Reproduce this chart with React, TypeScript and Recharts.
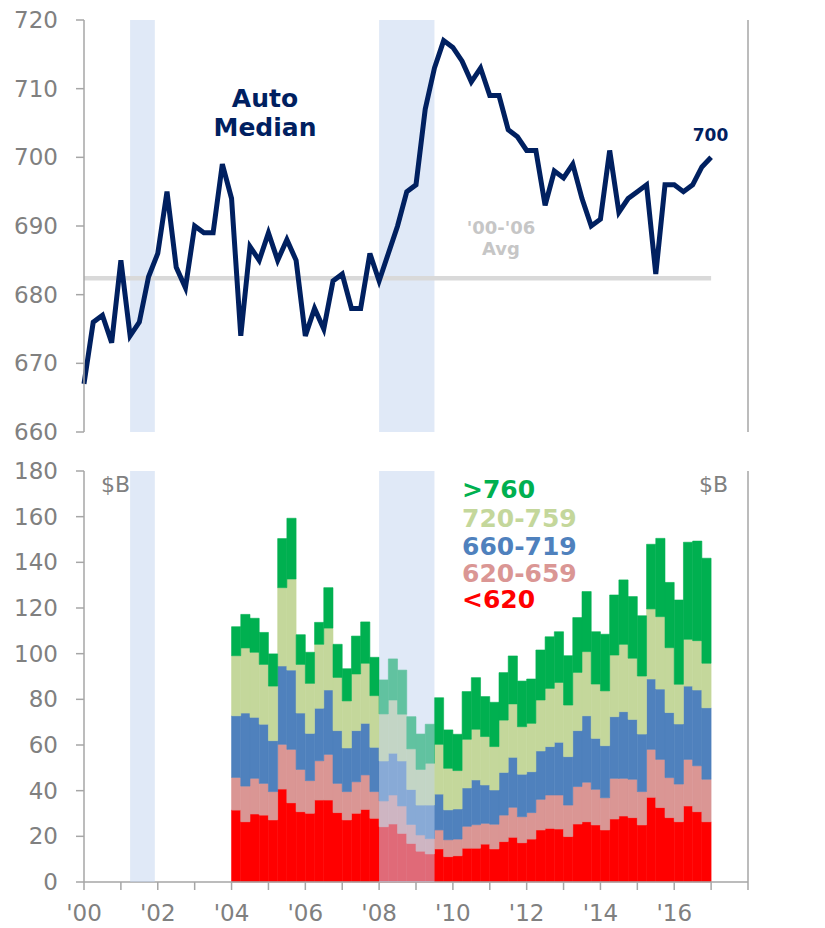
import React from "react";
import { ComposedChart, Line, Bar, XAxis, YAxis, ReferenceArea, ReferenceLine } from "recharts";

// Auto median credit score at origination, quarterly 2000Q1 - 2017Q1
const medianScore = [
  667, 676, 677, 673, 685, 674, 676, 682.6, 686, 695, 684, 681,
  690, 689, 689, 699, 694, 674, 687, 685, 689, 685, 688, 685,
  674, 678, 675, 682, 683, 678, 678, 686, 682, 686, 690, 695,
  696, 707, 713, 717, 716, 714, 711, 713, 709, 709, 704, 703,
  701, 701, 693, 698, 697, 699, 694, 690, 691, 701, 692, 694,
  695, 696, 683, 696, 696, 695, 696, 698.6, 700,
];
const avg0006 = 682.4;

// Originations by credit score ($B), quarterly 2004Q1 - 2016Q4
const under620 = [
  31.5, 26.4, 29.8, 29.3, 27.2, 40.7, 34.7, 30.8, 30.1, 35.9, 35.9, 30.4, 27.2,
  30.1, 31.8, 27.9, 24.2, 25.4, 21.3, 16.9, 13.5, 12.3, 14.5, 11.1, 11.5, 14.8,
  14.8, 16.6, 14.5, 17.7, 19.6, 17.2, 18.8, 22.8, 23.5, 23.2, 19.9, 25.4, 26.4,
  25.0, 22.8, 27.6, 28.9, 28.2, 25.0, 37.1, 32.6, 28.2, 26.4, 33.3, 30.8, 26.4,
];
const s620to659 = [
  14.3, 15.6, 15.6, 13.9, 12.4, 19.6, 23.4, 18.5, 14.3, 17.2, 20.0, 12.8, 12.4,
  13.8, 15.1, 11.7, 11.3, 12.7, 12.0, 8.3, 7.1, 6.7, 8.3, 7.4, 7.3, 9.6,
  10.3, 9.1, 10.8, 11.6, 13.1, 11.4, 11.6, 13.4, 14.6, 14.9, 13.8, 16.4, 17.3,
  15.6, 14.1, 17.8, 16.5, 16.8, 14.6, 21.0, 21.1, 17.5, 16.5, 20.4, 20.1, 18.6,
];
const s660to719 = [
  27.0, 32.0, 26.7, 25.9, 22.3, 34.3, 34.7, 24.7, 20.7, 23.0, 28.2, 23.1, 19.1,
  22.4, 22.6, 19.4, 17.5, 18.3, 19.7, 15.3, 13.1, 14.7, 15.7, 13.1, 13.2, 16.8,
  19.6, 16.8, 15.0, 18.7, 21.9, 18.6, 17.9, 21.2, 21.2, 23.1, 21.2, 24.5, 29.1,
  22.3, 22.8, 27.0, 29.2, 26.2, 25.2, 30.8, 30.8, 28.5, 26.3, 32.1, 33.2, 31.3,
];
const s720to759 = [
  26.3, 28.5, 28.5, 26.2, 23.9, 34.3, 39.9, 21.3, 21.9, 28.0, 27.1, 23.3, 20.6,
  24.8, 26.3, 22.6, 20.6, 23.3, 20.5, 17.8, 15.6, 18.3, 21.8, 18.2, 16.8, 21.3,
  22.2, 21.2, 19.0, 22.9, 23.4, 20.8, 21.2, 22.3, 25.5, 26.2, 22.6, 25.5, 28.1,
  23.8, 24.0, 27.0, 29.5, 26.8, 25.4, 30.7, 31.7, 28.4, 17.4, 20.5, 21.6, 19.5,
];
const over760 = [
  12.7, 14.7, 14.9, 14.0, 14.1, 21.5, 26.6, 13.0, 13.6, 9.6, 17.7, 14.5, 14.1,
  16.6, 18.1, 16.8, 14.9, 18.0, 19.3, 14.1, 15.5, 17.1, 20.4, 16.8, 15.9, 20.9,
  22.6, 17.5, 19.4, 20.8, 21.0, 20.0, 19.4, 21.9, 22.6, 22.2, 21.6, 24.0, 26.3,
  22.9, 24.8, 26.3, 28.2, 27.0, 26.4, 28.3, 34.3, 28.6, 36.9, 42.5, 43.6, 46.0,
];

const recessions = [
  [2001.25, 2001.92],
  [2008.0, 2009.5],
];
const yearTicks = [2000, 2001, 2002, 2003, 2004, 2005, 2006, 2007, 2008, 2009, 2010, 2011, 2012, 2013, 2014, 2015, 2016, 2017, 2018];
const scoreTicks = [660, 670, 680, 690, 700, 710, 720];
const volumeTicks = [0, 20, 40, 60, 80, 100, 120, 140, 160, 180];

const FONT = "'DejaVu Sans', Verdana, sans-serif";
const AXIS = "#a6a6a6";
const TICK_TEXT = "#808080";
const BAND = "#c1d4f0";
const NAVY = "#002060";
const C_GREEN = "#00b050";
const C_LGREEN = "#c4d79b";
const C_BLUE = "#4f81bd";
const C_PINK = "#da9694";
const C_RED = "#ff0000";

const lineData = medianScore.map((v, i) => ({ t: 2000 + i * 0.25, v }));
const barData = under620.map((v, i) => ({
  t: 2004.125 + i * 0.25,
  a: v,
  b: s620to659[i],
  c: s660to719[i],
  d: s720to759[i],
  e: over760[i],
}));

const tickStyle = { fill: TICK_TEXT, fontSize: 23, fontFamily: FONT };
const yearLabel = (y: number) => (y % 2 === 0 && y < 2018 ? "'" + String(y % 100).padStart(2, "0") : "");

// stacked layers, bottom to top
const layers = [
  { key: "a", color: C_RED },
  { key: "b", color: C_PINK },
  { key: "c", color: C_BLUE },
  { key: "d", color: C_LGREEN },
  { key: "e", color: C_GREEN },
];

export default function App() {
  return (
    <div style={{ position: "absolute", left: 0, top: 0, width: 825, height: 928, background: "#fff" }}>
      {/* top panel: median score */}
      <div style={{ position: "absolute", left: 0, top: 0 }}>
        <ComposedChart width={825} height={452} data={lineData} margin={{ top: 20, right: 7, bottom: 20, left: 14 }}>
          <XAxis type="number" dataKey="t" domain={[2000, 2018]} ticks={yearTicks} hide />
          <YAxis yAxisId="l" domain={[660, 720]} ticks={scoreTicks} interval={0} width={70}
            axisLine={{ stroke: AXIS, strokeWidth: 1.5 }} tickLine={{ stroke: AXIS, strokeWidth: 1.5 }}
            tickSize={8} tickMargin={18} tick={tickStyle} />
          <YAxis yAxisId="r" orientation="right" domain={[660, 720]} ticks={scoreTicks} interval={0} width={70}
            axisLine={{ stroke: AXIS, strokeWidth: 1.5 }} tickLine={{ stroke: AXIS, strokeWidth: 1.5 }}
            tickSize={8} tickMargin={12} tick={{ ...tickStyle, textAnchor: "start" }} />
          {recessions.map(([x1, x2]) => (
            <ReferenceArea key={x1} yAxisId="l" x1={x1} x2={x2} y1={660} y2={720} fill={BAND} fillOpacity={0.5} stroke="none" />
          ))}
          <ReferenceLine yAxisId="l" segment={[{ x: 2000, y: avg0006 }, { x: 2017, y: avg0006 }]} stroke="#d9d9d9" strokeWidth={4.5} />
          <Line yAxisId="l" dataKey="v" stroke={NAVY} strokeWidth={5} dot={false} isAnimationActive={false} />
        </ComposedChart>
      </div>

      {/* bottom panel: originations by score band */}
      <div style={{ position: "absolute", left: 0, top: 440 }}>
        <ComposedChart width={825} height={488} data={barData} margin={{ top: 31, right: 7, bottom: 0, left: 14 }}>
          <XAxis type="number" dataKey="t" domain={[2000, 2018]} ticks={yearTicks} interval={0} height={46}
            tickFormatter={yearLabel} axisLine={{ stroke: AXIS, strokeWidth: 1.5 }} tickLine={{ stroke: AXIS, strokeWidth: 1.5 }}
            tickSize={8} tickMargin={15} tick={tickStyle} />
          <YAxis yAxisId="l" domain={[0, 180]} ticks={volumeTicks} interval={0} width={70}
            axisLine={{ stroke: AXIS, strokeWidth: 1.5 }} tickLine={{ stroke: AXIS, strokeWidth: 1.5 }}
            tickSize={8} tickMargin={18} tick={tickStyle} />
          <YAxis yAxisId="r" orientation="right" domain={[0, 180]} ticks={volumeTicks} interval={0} width={70}
            axisLine={{ stroke: AXIS, strokeWidth: 1.5 }} tickLine={{ stroke: AXIS, strokeWidth: 1.5 }}
            tickSize={8} tickMargin={12} tick={{ ...tickStyle, textAnchor: "start" }} />
          {layers.map((l) => (
            <Bar key={l.key} yAxisId="l" dataKey={l.key} stackId="s" fill={l.color} stroke={l.color} strokeWidth={0.6}
              barSize={9.2} isAnimationActive={false} />
          ))}
          {recessions.map(([x1, x2]) => (
            <ReferenceArea key={x1} yAxisId="l" x1={x1} x2={x2} y1={0} y2={180} fill={BAND} fillOpacity={0.5} stroke="none" zIndex={600} />
          ))}
        </ComposedChart>
      </div>

      {/* annotations */}
      <svg width={825} height={928} style={{ position: "absolute", left: 0, top: 0, pointerEvents: "none" }} fontFamily={FONT}>
        <text x={265} y={106.5} textAnchor="middle" fontSize={25} fontWeight="bold" fill={NAVY}>Auto</text>
        <text x={265} y={136} textAnchor="middle" fontSize={25} fontWeight="bold" fill={NAVY}>Median</text>
        <text x={710.5} y={140.5} textAnchor="middle" fontSize={17} fontWeight="bold" fill={NAVY}>700</text>
        <text x={501} y={234} textAnchor="middle" fontSize={18} fontWeight="bold" fill="#c6c6c6">'00-'06</text>
        <text x={501} y={255} textAnchor="middle" fontSize={18} fontWeight="bold" fill="#c6c6c6">Avg</text>
        <text x={101} y={492} fontSize={22} fill={TICK_TEXT}>$B</text>
        <text x={699} y={492} fontSize={22} fill={TICK_TEXT}>$B</text>
        <text x={462} y={498} fontSize={25} fontWeight="bold" fill={C_GREEN}>&gt;760</text>
        <text x={462} y={527} fontSize={25} fontWeight="bold" fill={C_LGREEN}>720-759</text>
        <text x={462} y={555} fontSize={25} fontWeight="bold" fill={C_BLUE}>660-719</text>
        <text x={462} y={582} fontSize={25} fontWeight="bold" fill={C_PINK}>620-659</text>
        <text x={462} y={608} fontSize={25} fontWeight="bold" fill={C_RED}>&lt;620</text>
      </svg>
    </div>
  );
}
